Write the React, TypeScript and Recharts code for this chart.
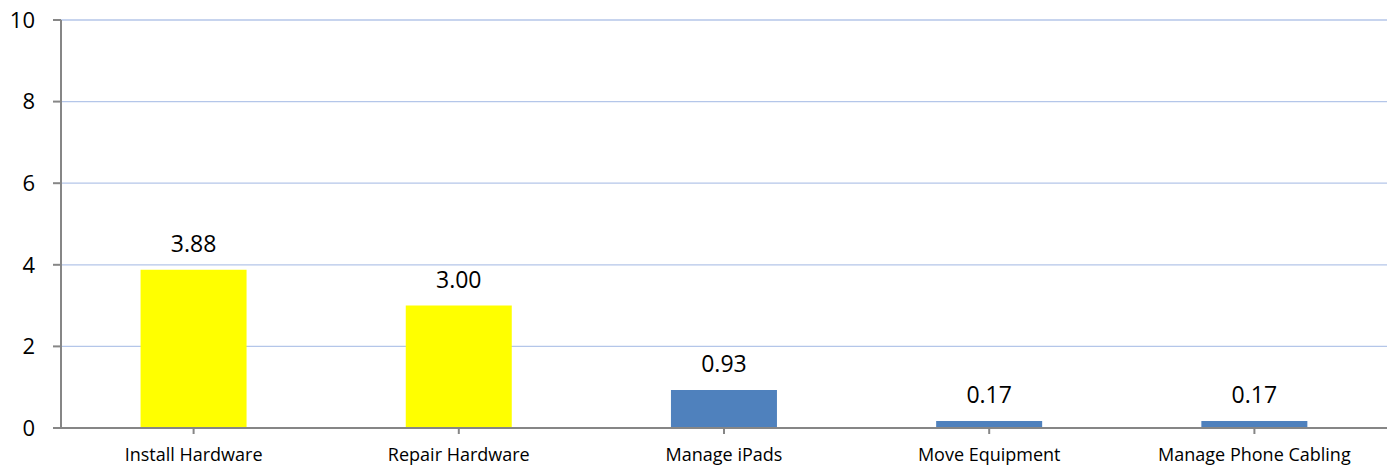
import React from "react";
import { BarChart, Bar, XAxis, YAxis, CartesianGrid, Cell, LabelList } from "recharts";

const categories = ["Install Hardware", "Repair Hardware", "Manage iPads", "Move Equipment", "Manage Phone Cabling"];
const values = [3.88, 3.0, 0.93, 0.17, 0.17];
const barColors = ["#FFFF00", "#FFFF00", "#4F81BD", "#4F81BD", "#4F81BD"];
const yTicks = [0, 2, 4, 6, 8, 10];

const data = categories.map((name, i) => ({ name, value: values[i] }));

export default function App() {
  return (
    <div style={{ position: "absolute", left: 0, top: 0, width: 1395, height: 470, background: "#fff" }}>
      <BarChart
        width={1395}
        height={470}
        data={data}
        margin={{ top: 20, right: 8, bottom: 0, left: 0 }}
        barCategoryGap="30%"
        style={{ fontFamily: "'Open Sans', sans-serif" }}
      >
        <CartesianGrid vertical={false} stroke="#B4C6E9" strokeWidth={1.3} />
        <XAxis
          dataKey="name"
          height={42}
          axisLine={{ stroke: "#868686", strokeWidth: 2 }}
          tickLine={{ stroke: "#868686", strokeWidth: 2 }}
          tickSize={6}
          tickMargin={14}
          interval={0}
          tick={{ fill: "#000", fontSize: 18 }}
        />
        <YAxis
          width={61}
          domain={[0, 10]}
          ticks={yTicks}
          axisLine={{ stroke: "#868686", strokeWidth: 2 }}
          tickLine={{ stroke: "#868686", strokeWidth: 2 }}
          tickSize={8}
          tickMargin={18}
          tick={{ fill: "#000", fontSize: 22 }}
        />
        <Bar dataKey="value" isAnimationActive={false}>
          {data.map((d, i) => (
            <Cell key={d.name} fill={barColors[i]} />
          ))}
          <LabelList
            dataKey="value"
            position="top"
            offset={18}
            formatter={(v: number) => v.toFixed(2)}
            style={{ fill: "#000", fontSize: 23 }}
          />
        </Bar>
      </BarChart>
    </div>
  );
}
